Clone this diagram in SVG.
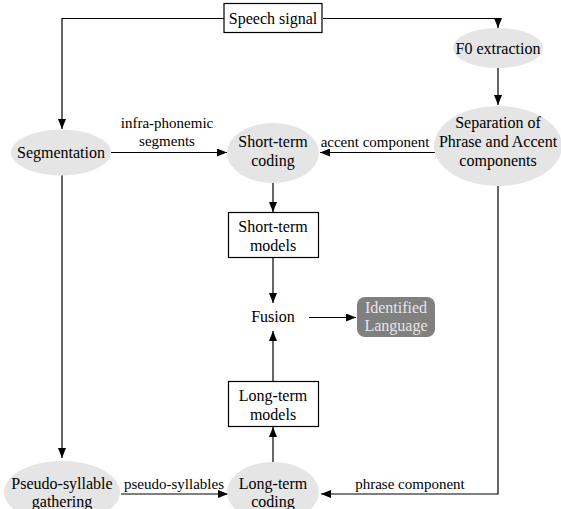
<svg xmlns="http://www.w3.org/2000/svg" width="561" height="509" viewBox="0 0 561 509">
<style>
text{font-family:"Liberation Serif","Times New Roman",serif;font-size:16px;fill:#000;text-anchor:middle}
.lbl{font-size:15px}
.ell{fill:#e5e5e5;stroke:none}
.box{fill:#fff;stroke:#000;stroke-width:1.2}
.edge{fill:none;stroke:#000;stroke-width:1.2}
.lt{fill:#e6e6e6}
</style>
<defs>
<marker id="arr" viewBox="0 0 10 8" refX="10" refY="4" markerWidth="10" markerHeight="8" markerUnits="userSpaceOnUse" orient="auto">
<path d="M0,0 L10,4 L0,8 Z" fill="#000"/>
</marker>
</defs>
<rect width="561" height="509" fill="#fff"/>
<g id="connectors">
<path class="edge" d="M224,18.5 H62 V129" marker-end="url(#arr)"/>
<path class="edge" d="M323,18.5 H498 V28" marker-end="url(#arr)"/>
<path class="edge" d="M498,68 V105" marker-end="url(#arr)"/>
<path class="edge" d="M111,152.5 H227" marker-end="url(#arr)"/>
<path class="edge" d="M435,152.5 H320" marker-end="url(#arr)"/>
<path class="edge" d="M273,183 V212" marker-end="url(#arr)"/>
<path class="edge" d="M273,258 V303" marker-end="url(#arr)"/>
<path class="edge" d="M309,317.5 H356" marker-end="url(#arr)"/>
<path class="edge" d="M273,381 V331" marker-end="url(#arr)"/>
<path class="edge" d="M273,462 V427" marker-end="url(#arr)"/>
<path class="edge" d="M62,175 V458" marker-end="url(#arr)"/>
<path class="edge" d="M121,494 H228" marker-end="url(#arr)"/>
<path class="edge" d="M498,186 V494 H321" marker-end="url(#arr)"/>
<text class="lbl" x="167" y="128">infra-phonemic</text>
<text class="lbl" x="167" y="146">segments</text>
<text class="lbl" x="375" y="147">accent component</text>
<text class="lbl" x="174" y="489">pseudo-syllables</text>
<text class="lbl" x="410" y="489">phrase component</text>
</g>
<g id="speech-signal">
<rect class="box" x="224" y="3.5" width="98" height="29"/>
<text x="273" y="24">Speech signal</text>
</g>
<g id="f0-extraction">
<ellipse class="ell" cx="498" cy="48" rx="45" ry="20"/>
<text x="498" y="53.5">F0 extraction</text>
</g>
<g id="separation">
<ellipse class="ell" cx="498" cy="146" rx="64" ry="40"/>
<text x="498" y="128">Separation of</text>
<text x="498" y="147">Phrase and Accent</text>
<text x="498" y="166">components</text>
</g>
<g id="segmentation">
<ellipse class="ell" cx="61" cy="152.5" rx="50" ry="23"/>
<text x="61" y="158">Segmentation</text>
</g>
<g id="short-term-coding">
<ellipse class="ell" cx="273" cy="153" rx="46" ry="30"/>
<text x="273" y="147">Short-term</text>
<text x="273" y="166">coding</text>
</g>
<g id="short-term-models">
<rect class="box" x="228.5" y="212.5" width="90" height="45"/>
<text x="273" y="232">Short-term</text>
<text x="273" y="251">models</text>
</g>
<g id="fusion">
<text x="273" y="322">Fusion</text>
</g>
<g id="identified-language">
<rect x="357" y="297" width="78" height="40" rx="8" fill="#808080"/>
<text class="lt" x="396" y="313" style="fill:#e6e6e6">Identified</text>
<text class="lt" x="396" y="331" style="fill:#e6e6e6">Language</text>
</g>
<g id="long-term-models">
<rect class="box" x="228.5" y="381.5" width="90" height="45"/>
<text x="273" y="401">Long-term</text>
<text x="273" y="420">models</text>
</g>
<g id="long-term-coding">
<ellipse class="ell" cx="273" cy="492" rx="46" ry="30"/>
<text x="273" y="489">Long-term</text>
<text x="273" y="507">coding</text>
</g>
<g id="pseudo-syllable">
<ellipse class="ell" cx="62" cy="492" rx="58" ry="31"/>
<text x="62" y="489">Pseudo-syllable</text>
<text x="62" y="507">gathering</text>
</g>
</svg>
